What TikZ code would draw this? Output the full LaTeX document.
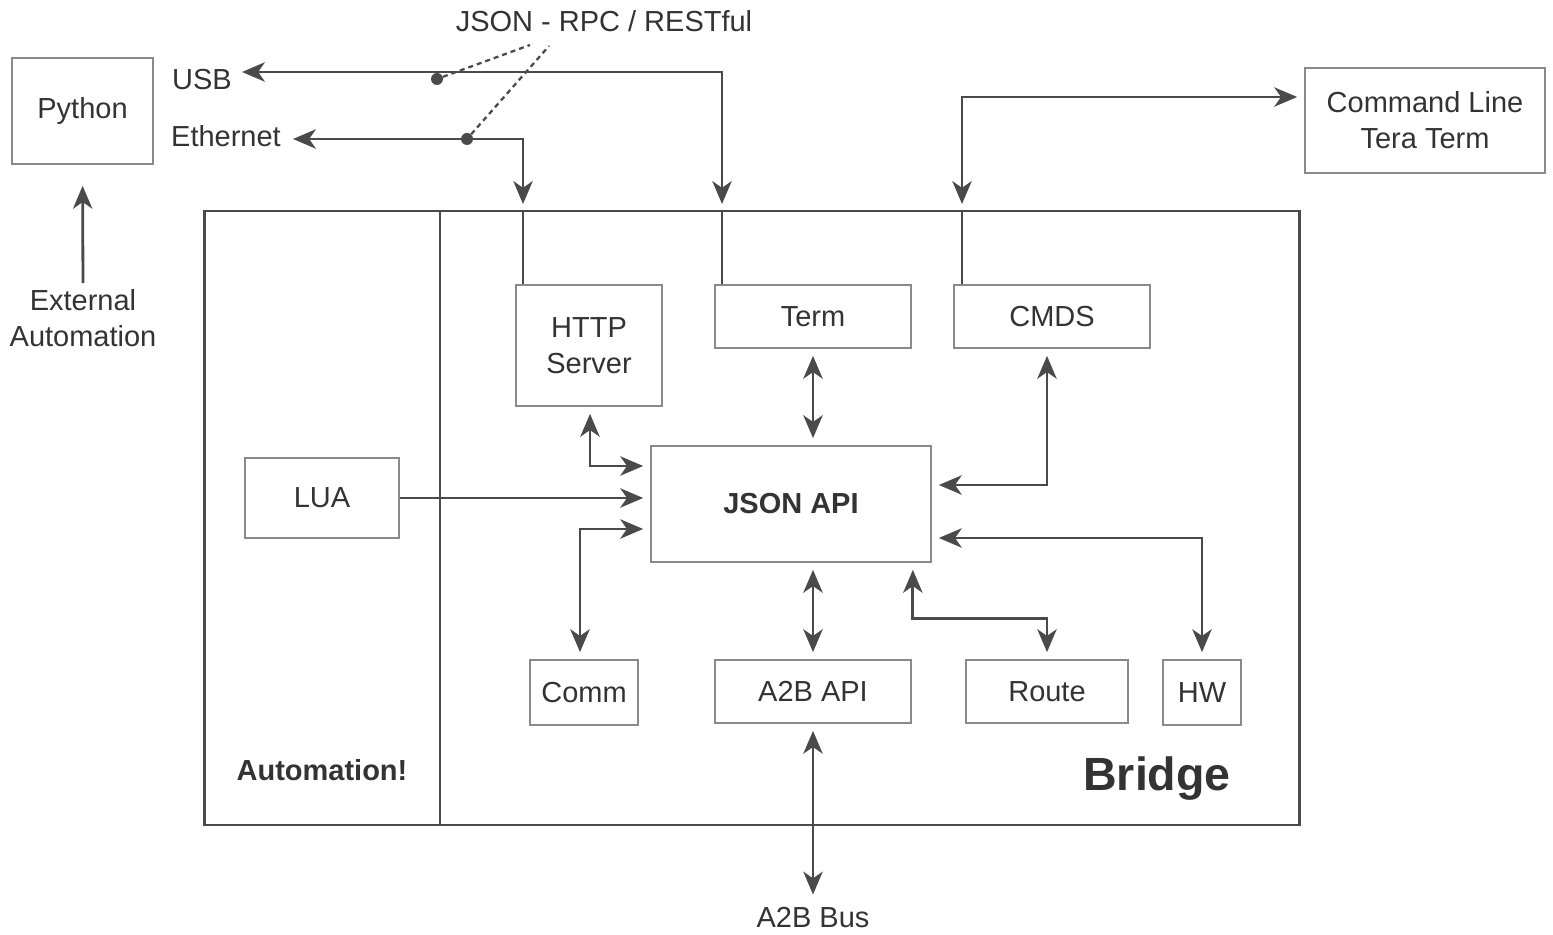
\documentclass[tikz,border=0pt]{standalone}
\usepackage{fontspec}
\setmainfont{Liberation Sans}
\usetikzlibrary{positioning,arrows.meta}
\definecolor{linegray}{HTML}{4A4A4A}
\definecolor{boxgray}{HTML}{8A8A8A}
\definecolor{textgray}{HTML}{333333}

\begin{document}
\begin{tikzpicture}[x=0.02cm, y=-0.02cm, >={Stealth[length=13pt, width=11pt, inset=3.8pt]}, every node/.style={font=\fontsize{16.5}{20.4}\selectfont, text=textgray, align=center}, box/.style={draw=boxgray, line width=1pt, inner sep=0pt}, frame/.style={draw=linegray, line width=1.6pt}, link/.style={draw=linegray, line width=1.6pt}, dot/.style={circle, fill=linegray, inner sep=0pt, minimum size=0.24cm}, hint/.style={draw=linegray, line width=1.3pt, dash pattern=on 0.1cm off 0.08cm}, gap/.style={shorten >=0.14cm, shorten <=0.14cm}]
\useasboundingbox (0,0) rectangle (1553,935);
% outside
\node[box, minimum width=2.82cm, minimum height=2.12cm] (python) at (82.5,111) {Python};
\node[box, minimum width=4.8cm, minimum height=2.1cm] (cli) at (1425,120.5) {Command Line\\Tera Term};
\node (usb) at (202,80) {USB};
\node (eth) at (226,136) {Ethernet};
\node (rpc) at (604,21) {JSON - RPC / RESTful};
\node (ext) at (83,318) {External\\Automation};
\node (bus) at (813,918) {A2B Bus};
% bridge
\node[frame, minimum width=21.92cm, minimum height=12.28cm, inner sep=0pt] (bridge) at (752,518) {};
\draw[frame] (440,211) -- (440,825);
\node (auto) at (322,770) {\bfseries Automation!};
\node[font=\fontsize{26.5}{30}\selectfont\bfseries] (bridgelbl) at (1157,779) {Bridge};
\node[box, minimum width=2.92cm, minimum height=2.42cm] (http) at (589,345.5) {HTTP\\Server};
\node[box, minimum width=3.92cm, minimum height=1.26cm] (term) at (813,316.5) {Term};
\node[box, minimum width=3.92cm, minimum height=1.26cm] (cmds) at (1052,316.5) {CMDS};
\node[box, minimum width=3.08cm, minimum height=1.6cm] (lua) at (322,498) {LUA};
\node[box, minimum width=5.6cm, minimum height=2.32cm, font=\fontsize{16.5}{20.4}\selectfont\bfseries] (json) at (791,504) {JSON API};
\node[box, minimum width=2.16cm, minimum height=1.3cm] (comm) at (584,692.5) {Comm};
\node[box, minimum width=3.92cm, minimum height=1.26cm] (a2b) at (813,691.5) {A2B API};
\node[box, minimum width=3.24cm, minimum height=1.26cm] (route) at (1047,691.5) {Route};
\node[box, minimum width=1.56cm, minimum height=1.3cm] (hw) at (1202,692.5) {HW};
% ports on the bridge edge
\coordinate (ethport) at (523,211);
\coordinate (termport) at (722,211);
\coordinate (cmdsport) at (962,211);
\coordinate (usbend) at (235,72);
\coordinate (ethend) at (286,139);
\coordinate (rpcleft) at (530,45);
\coordinate (rpcright) at (549,46);
\draw[link, <->, gap] (usbend) -| (termport);
\draw[link, <->, gap] (ethend) -| (ethport);
\draw[link, <->, gap] (cmdsport) |- ([yshift=0.47cm]cli.west);
\draw[link] (ethport) -- (ethport |- http.north);
\draw[link] (termport) -- (termport |- term.north);
\draw[link] (cmdsport) -- (cmdsport |- cmds.north);
\node[dot] (usbdot) at (437,79) {};
\node[dot] (ethdot) at (467,139) {};
\draw[hint] (usbdot) -- (rpcleft);
\draw[hint] (ethdot) -- (rpcright);
\draw[link, ->, shorten >=0.42cm] (ext.north) -- (python.south);
% json api links
\draw[link, <->, gap] ([xshift=0.02cm]http.south) |- ([yshift=0.76cm]json.west);
\draw[link, <->, gap] (term.south) -- (term.south |- json.north);
\draw[link, <->, gap] ([xshift=-0.1cm]cmds.south) |- ([yshift=0.38cm]json.east);
\draw[link, ->, shorten >=0.14cm] (lua.east) -- (lua.east -| json.west);
\draw[link, <->, gap] ([yshift=-0.5cm]json.west) -| ([xshift=-0.08cm]comm.north);
\draw[link, <->, gap] (a2b.north |- json.south) -- (a2b.north);
\draw[link, <->, gap] ([xshift=-0.38cm]json.south east) -- ++(0,56) -| (route.north);
\draw[link, <->, gap] ([yshift=-0.68cm]json.east) -| (hw.north);
\draw[link, <->, gap] (a2b.south) -- (bus.north);
\end{tikzpicture}
\end{document}
